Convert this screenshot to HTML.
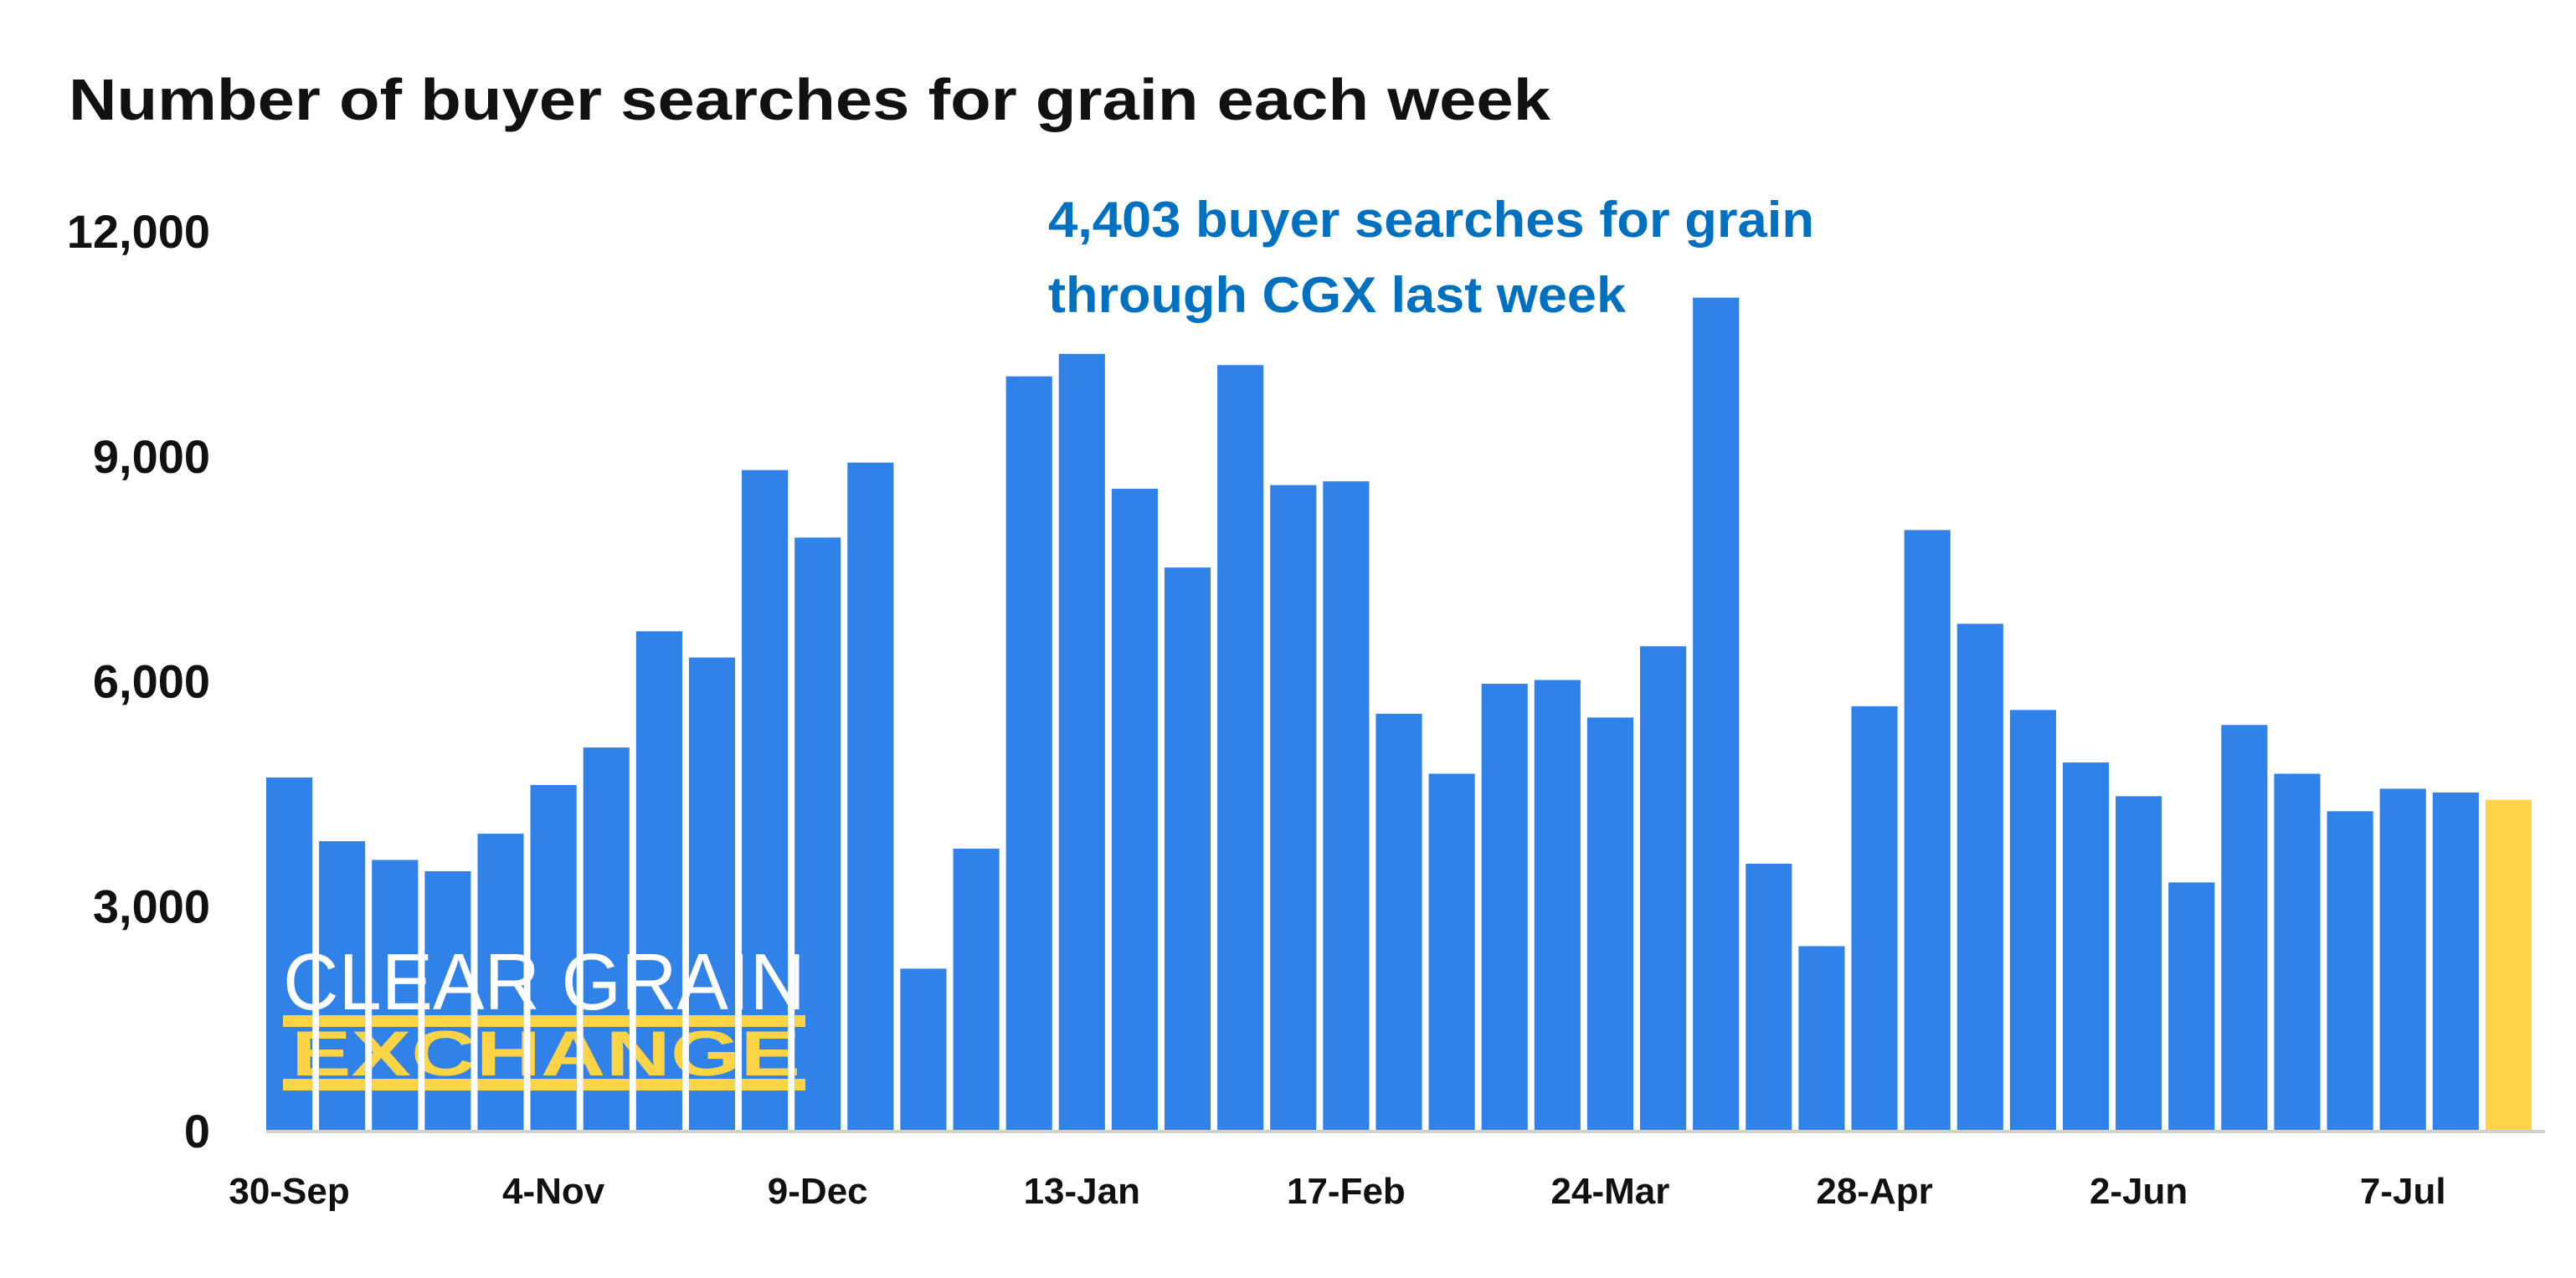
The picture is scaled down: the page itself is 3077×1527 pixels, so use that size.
<!DOCTYPE html>
<html><head><meta charset="utf-8"><style>
html,body{margin:0;padding:0;background:#fff;}
svg{display:block;font-family:"Liberation Sans",sans-serif;font-weight:bold;}
</style></head><body>
<svg id="chart" width="3077" height="1527" viewBox="0 0 3077 1527">
<text x="82" y="143" font-size="70" fill="#111" textLength="1770" lengthAdjust="spacingAndGlyphs">Number of buyer searches for grain each week</text>
<text x="1252" y="283" font-size="60" fill="#0070C0" textLength="915" lengthAdjust="spacingAndGlyphs">4,403 buyer searches for grain</text>
<text x="1252" y="373" font-size="60" fill="#0070C0" textLength="690" lengthAdjust="spacingAndGlyphs">through CGX last week</text>
<g id="yaxis"></g>
<g id="bars"></g>
<g id="logo" clip-path="url(#barclip)">
<text x="338" y="1206" font-size="96" font-weight="normal" fill="#fff" textLength="624" lengthAdjust="spacingAndGlyphs">CLEAR GRAIN</text>
<rect x="338" y="1213" width="624" height="14" fill="#FDD446"/>
<rect x="338" y="1289" width="624" height="14" fill="#FDD446"/>
<text x="348" y="1285" font-size="76" fill="#FDD446" textLength="608" lengthAdjust="spacingAndGlyphs">EXCHANGE</text>
</g>
<line x1="318" y1="1352" x2="3040" y2="1352" stroke="#d0d0d0" stroke-width="4"/>
<g id="xaxis"></g>
<defs><clipPath id="barclip"></clipPath></defs>
</svg>
<script>
const categories = ["30-Sep","7-Oct","14-Oct","21-Oct","28-Oct","4-Nov","11-Nov","18-Nov","25-Nov","2-Dec","9-Dec","16-Dec","23-Dec","30-Dec","6-Jan","13-Jan","20-Jan","27-Jan","3-Feb","10-Feb","17-Feb","24-Feb","3-Mar","10-Mar","17-Mar","24-Mar","31-Mar","7-Apr","14-Apr","21-Apr","28-Apr","5-May","12-May","19-May","26-May","2-Jun","9-Jun","16-Jun","23-Jun","30-Jun","7-Jul","14-Jul","21-Jul"];
const searches = [4700,3850,3600,3450,3950,4600,5100,6650,6300,8800,7900,8900,2150,3750,10050,10350,8550,7500,10200,8600,8650,5550,4750,5950,6000,5500,6450,11100,3550,2450,5650,8000,6750,5600,4900,4450,3300,5400,4750,4250,4550,4500,4403];
const yTicks = [0,3000,6000,9000,12000];
const yTickLabels = ["0","3,000","6,000","9,000","12,000"];
const xLabelIdx = [0,5,10,15,20,25,30,35,40];

const NS="http://www.w3.org/2000/svg";
const x0=318, x1=3032, yBase=1350, yTop=275, yMax=12000;
const pitch=(x1-x0)/categories.length, bw=pitch-8;
const yScale=v=>yBase-(v/yMax)*(yBase-yTop);
const xScale=i=>x0+i*pitch;
const bars=document.getElementById('bars'), clip=document.getElementById('barclip');
searches.forEach((v,i)=>{
  const r=document.createElementNS(NS,'rect');
  r.setAttribute('x',xScale(i)); r.setAttribute('y',yScale(v));
  r.setAttribute('width',bw); r.setAttribute('height',yBase-yScale(v));
  r.setAttribute('fill', i===searches.length-1?'#FDD446':'#3081E8');
  
  
  bars.appendChild(r);
  const c=document.createElementNS(NS,'rect');
  c.setAttribute('x',xScale(i)); c.setAttribute('y',yScale(v));
  c.setAttribute('width',bw); c.setAttribute('height',yBase-yScale(v));
  clip.appendChild(c);
});
const ya=document.getElementById('yaxis');
yTicks.forEach((t,i)=>{
  const tx=document.createElementNS(NS,'text');
  tx.setAttribute('x',251); tx.setAttribute('y',yScale(t)+21);
  tx.setAttribute('text-anchor','end'); tx.setAttribute('font-size','56');
  tx.setAttribute('fill','#111');
  
  
  tx.textContent=yTickLabels[i]; ya.appendChild(tx);
});
const xa=document.getElementById('xaxis');
xLabelIdx.forEach(i=>{
  const tx=document.createElementNS(NS,'text');
  tx.setAttribute('x',xScale(i)+bw/2); tx.setAttribute('y',1438);
  tx.setAttribute('text-anchor','middle'); tx.setAttribute('font-size','44');
  tx.setAttribute('fill','#111');
  
  
  tx.textContent=categories[i]; xa.appendChild(tx);
});
</script>
</body></html>
